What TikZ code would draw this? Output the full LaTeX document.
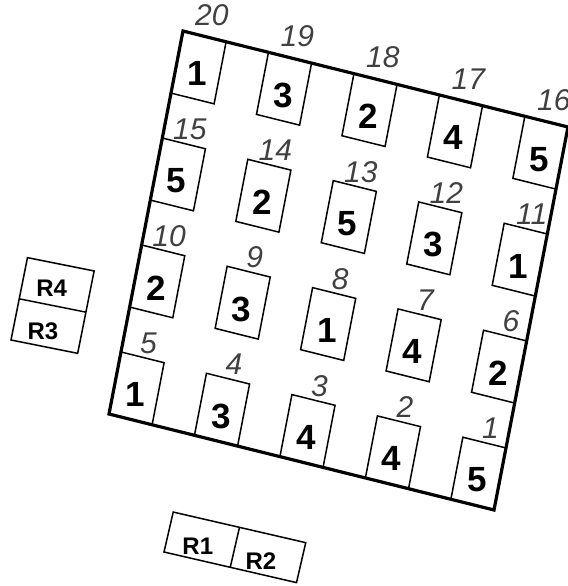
\documentclass[tikz,border=0pt]{standalone}
\usepackage{fontspec}
\setmainfont{Liberation Sans}
\usepackage{tikz}
\usetikzlibrary{positioning,calc}
\tikzset{
  cell/.style={draw, line width=0.75pt},
  val/.style={font=\fontsize{17.5}{17.5}\selectfont\bfseries, inner sep=0pt},
  idx/.style={font=\fontsize{15}{15}\selectfont\itshape, text=black!75, inner sep=0pt},
  rtag/.style={font=\fontsize{12}{12}\selectfont\bfseries, inner sep=0pt}
}

\begin{document}
\begin{tikzpicture}[x=0.5pt, y=-0.5pt]
  \useasboundingbox (0,0) rectangle (568,586);
  % field frame in a skewed 0..100 unit frame
  \begin{scope}[shift={(54.5pt,-207pt)}, x={(1.925pt,-0.48pt)}, y={(0.37pt,1.915pt)}]
    \foreach \n/\v in {1/5,2/4,3/4,4/3,5/1,6/2,7/4,8/1,9/3,10/2,11/1,12/3,13/5,14/2,15/5,16/5,17/4,18/2,19/3,20/1}{
      \pgfmathtruncatemacro{\row}{(\n-1)/5}
      \pgfmathtruncatemacro{\col}{4-mod(\n-1,5)}
      \pgfmathsetmacro{\a}{22.2*\col}
      \pgfmathsetmacro{\b}{27.93*\row}
      \pgfmathsetmacro{\lift}{\row==3 ? 5.8 : 3.9}
      \draw[cell] (\a,\b) -- ++(11.2,0) -- ++(0,16.2) -- ++(-11.2,0) -- cycle;
      \node[val] (v\n) at (\a+5.6,\b+6.4) {\v};
      \node[idx] (i\n) at (\a+6.4,\b+16.2+\lift) {\n};
    }
    \draw[line width=1.6pt] (0,0) -- (100,0) -- (100,100) -- (0,100) -- cycle;
  \end{scope}
  % reference boxes
  \begin{scope}[shift={(11,340)}, rotate=-11.3, y=0.5pt]
    \draw[cell] (0,0) rectangle (68,42) (0,42) rectangle (68,84);
    \node[rtag] (r4) at (29.7,59) {R4};
    \node[rtag] (r3) at (29.6,15) {R3};
  \end{scope}
  \begin{scope}[shift={(164,552)}, rotate=-13, y=0.5pt]
    \draw[cell] (0,0) rectangle (68,41) (68,0) rectangle (136,41);
    \node[rtag] (r1) at (31.6,13.3) {R1};
    \node[rtag] (r2) at (96.5,13.1) {R2};
  \end{scope}
\end{tikzpicture}
\end{document}
